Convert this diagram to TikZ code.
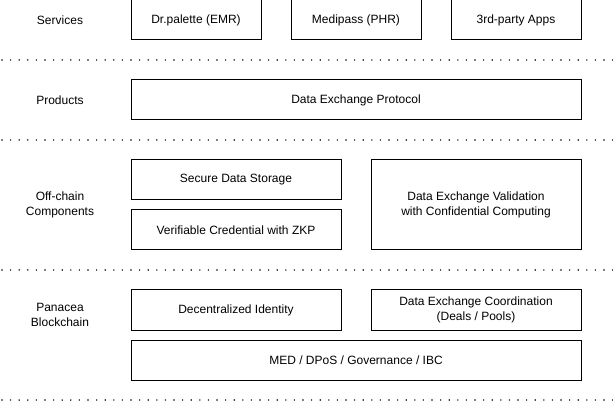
\documentclass[tikz,border=0pt]{standalone}
\usepackage{fontspec}
\setmainfont{Liberation Sans}
\usetikzlibrary{calc}

\begin{document}
\begin{tikzpicture}[x=1pt, y=-1pt]
        % ================= 样式定义 =================
        \tikzset{
            block/.style={draw=black, line width=1pt, fill=white, align=center,
                font=\fontsize{12}{15}\selectfont, inner sep=0pt},
            layer/.style={align=center, font=\fontsize{12}{15}\selectfont},
            sep/.style={line width=1.6pt, line cap=round, dash pattern=on 0pt off 8.6pt}
        }
        \useasboundingbox (0,0) rectangle (613,403);

        % ================= 分隔线 =================
        \foreach \yy in {60, 140, 270, 400} {
            \draw[sep] (2,\yy) -- (613,\yy);
        }

        % ================= 层名称 =================
        \node[layer] (services) at (60, 20) {Services};
        \node[layer] (products) at (60, 100) {Products};
        \node[layer] (offchain) at (60, 205) {Off-chain\\Components};
        \node[layer] (panacea) at (60, 315) {Panacea\\Blockchain};

        % Services
        \node[block, minimum width=130pt, minimum height=40pt] (drpalette) at (196, 20) {Dr.palette (EMR)};
        \node[block, minimum width=130pt, minimum height=40pt] (medipass) at (356, 20) {Medipass (PHR)};
        \node[block, minimum width=130pt, minimum height=40pt] (apps) at (516, 20) {3rd-party Apps};

        % Products
        \node[block, minimum width=450pt, minimum height=40pt] (protocol) at (356, 100) {Data Exchange Protocol};

        % Off-chain Components
        \node[block, minimum width=210pt, minimum height=40pt] (storage) at (236, 180) {Secure Data Storage};
        \node[block, minimum width=210pt, minimum height=40pt] (credential) at (236, 230) {Verifiable Credential with ZKP};
        \node[block, minimum width=210pt, minimum height=90pt] (validation) at (476, 205) {Data Exchange Validation\\with Confidential Computing};

        % Panacea Blockchain
        \node[block, minimum width=210pt, minimum height=40pt] (identity) at (236, 310) {Decentralized Identity};
        \node[block, minimum width=210pt, minimum height=40pt] (coordination) at (476, 310) {Data Exchange Coordination\\(Deals / Pools)};
        \node[block, minimum width=450pt, minimum height=40pt] (chain) at (356, 360) {MED / DPoS / Governance / IBC};

    \end{tikzpicture}
\end{document}
